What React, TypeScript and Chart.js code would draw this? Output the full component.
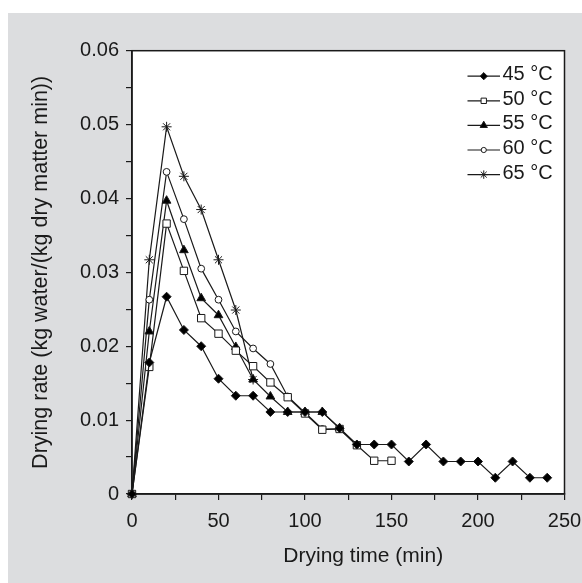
import React, { useEffect, useRef } from 'react';
import { Chart, registerables } from 'chart.js';
import { drawPoint } from 'chart.js/helpers';

Chart.register(...registerables);

// Drying time (min)
const timeMin = [0, 10, 20, 30, 40, 50, 60, 70, 80, 90, 100, 110, 120, 130, 140, 150, 160, 170, 180, 190, 200, 210, 220, 230, 240];

// Drying rate (kg water/(kg dry matter min))
const rate45 = [0, 0.0178, 0.0267, 0.0222, 0.02, 0.0156, 0.0133, 0.0133, 0.0111, 0.0111, 0.0111, 0.0111, 0.0089, 0.0067, 0.0067, 0.0067, 0.0044, 0.0067, 0.0044, 0.0044, 0.0044, 0.0022, 0.0044, 0.0022, 0.0022];
const rate50 = [0, 0.0172, 0.0366, 0.0302, 0.0238, 0.0217, 0.0194, 0.0173, 0.0151, 0.0131, 0.0109, 0.0087, 0.0088, 0.0066, 0.0045, 0.0045];
const rate55 = [0, 0.022, 0.0397, 0.033, 0.0265, 0.0242, 0.0199, 0.0155, 0.0132, 0.0111, 0.0111, 0.0111, 0.0089];
const rate60 = [0, 0.0263, 0.0436, 0.0372, 0.0305, 0.0263, 0.022, 0.0197, 0.0176, 0.0132, 0.011, 0.0088, 0.0088, 0.0066];
const rate65 = [0, 0.0317, 0.0497, 0.043, 0.0385, 0.0317, 0.0249, 0.0155];

const seriesLabels = ['45 °C', '50 °C', '55 °C', '60 °C', '65 °C'];
const seriesRates = [rate45, rate50, rate55, rate60, rate65];
const seriesStyles = ['rectRot', 'rect', 'triangle', 'circle', 'star'];
const seriesFill = ['#000000', '#ffffff', '#000000', '#ffffff', '#000000'];
const seriesRadius = [4.5, 5.2, 5, 3.4, 5];
const legendRadius = [3.6, 3.8, 4.2, 2.6, 4.2];

const xAxisTitle = 'Drying time (min)';
const yAxisTitle = 'Drying rate (kg water/(kg dry matter min))';

const FONT = "'Liberation Sans', Arial, Helvetica, sans-serif";
const INK = '#1a1a1a';
const GRAY = '#dcdddf';

const frameAndLegend = {
  id: 'frameAndLegend',
  beforeDraw(chart: any) {
    const { ctx, chartArea } = chart;
    ctx.save();
    ctx.fillStyle = '#ffffff';
    ctx.fillRect(chartArea.left, chartArea.top, chartArea.right - chartArea.left, chartArea.bottom - chartArea.top);
    ctx.restore();
  },
  beforeDatasetsDraw(chart: any) {
    const { ctx, chartArea } = chart;
    ctx.save();
    ctx.strokeStyle = INK;
    ctx.lineWidth = 1.5;
    ctx.strokeRect(chartArea.left, chartArea.top, chartArea.right - chartArea.left, chartArea.bottom - chartArea.top);
    ctx.restore();
  },
  afterDraw(chart: any) {
    const { ctx, chartArea } = chart;
    ctx.save();
    // x axis title (sits slightly right of the plot centre in the original)
    ctx.fillStyle = INK;
    ctx.font = `21px ${FONT}`;
    ctx.textAlign = 'center';
    ctx.textBaseline = 'middle';
    ctx.fillText(xAxisTitle, (chartArea.left + chartArea.right) / 2 + 15, chartArea.bottom + 62);
    // legend
    chart.data.datasets.forEach((ds: any, i: number) => {
      const y = chartArea.top + 25.5 + i * 24.6;
      const x0 = chartArea.right - 97;
      const x1 = chartArea.right - 64.5;
      ctx.strokeStyle = INK;
      ctx.lineWidth = 1.2;
      ctx.beginPath();
      ctx.moveTo(x0, y);
      ctx.lineTo(x1, y);
      ctx.stroke();
      ctx.fillStyle = seriesFill[i];
      ctx.strokeStyle = INK;
      ctx.lineWidth = 1;
      drawPoint(ctx, { pointStyle: seriesStyles[i], radius: legendRadius[i], borderWidth: 1, rotation: 0 } as any, (x0 + x1) / 2, y);
      ctx.fillStyle = INK;
      ctx.font = `20px ${FONT}`;
      ctx.textBaseline = 'middle';
      ctx.textAlign = 'left';
      ctx.fillText(ds.label, x1 + 2.5, y - 1.5);
    });
    ctx.restore();
  },
};

export default function App() {
  const canvasRef = useRef<HTMLCanvasElement | null>(null);

  useEffect(() => {
    const canvas = canvasRef.current;
    if (!canvas) return;
    const datasets = seriesLabels.map((label, i) => ({
      label,
      data: seriesRates[i].map((v, j) => ({ x: timeMin[j], y: v })),
      borderColor: INK,
      borderWidth: 1.2,
      pointStyle: seriesStyles[i],
      pointRadius: seriesRadius[i],
      pointBackgroundColor: seriesFill[i],
      pointBorderColor: INK,
      pointBorderWidth: 1,
      pointHoverRadius: seriesRadius[i],
      tension: 0,
      clip: false as any,
      fill: false,
    }));

    const chart = new Chart(canvas, {
      type: 'line',
      data: { datasets },
      options: {
        animation: false,
        responsive: false,
        maintainAspectRatio: false,
        devicePixelRatio: 1,
        layout: { padding: { left: 0, top: 37.7, right: 17.5, bottom: 0 } },
        plugins: {
          legend: { display: false },
          tooltip: { enabled: false },
        },
        scales: {
          x: {
            type: 'linear',
            min: 0,
            max: 250,
            afterFit: (scale: any) => {
              scale.height = 89;
              scale.paddingLeft = 0;
              scale.paddingRight = 0;
            },
            border: { display: true, color: INK, width: 1.5 },
            grid: { display: true, drawOnChartArea: false, drawTicks: true, tickLength: 6, color: INK, lineWidth: 1.2 },
            ticks: {
              stepSize: 25,
              autoSkip: false,
              maxRotation: 0,
              padding: 9,
              color: INK,
              font: { family: FONT, size: 20 },
              callback: (v: any) => (Math.round(Number(v)) % 50 === 0 ? String(Math.round(Number(v))) : ''),
            },
            title: { display: false },
          },
          y: {
            type: 'linear',
            min: 0,
            max: 0.06,
            afterFit: (scale: any) => {
              scale.width = 124;
              scale.paddingTop = 0;
              scale.paddingBottom = 0;
            },
            border: { display: true, color: INK, width: 1.5 },
            grid: { display: true, drawOnChartArea: false, drawTicks: true, tickLength: 6, color: INK, lineWidth: 1.2 },
            ticks: {
              stepSize: 0.005,
              autoSkip: false,
              padding: 7,
              color: INK,
              font: { family: FONT, size: 20 },
              callback: (v: any) => {
                const n = Math.round(Number(v) / 0.005);
                if (n % 2 !== 0) return '';
                return n === 0 ? '0' : (n * 0.005).toFixed(2);
              },
            },
            title: {
              display: true,
              text: yAxisTitle,
              color: INK,
              font: { family: FONT, size: 21.5 },
              padding: { top: 20, bottom: 0 },
            },
          },
        },
      },
      plugins: [frameAndLegend],
    });
    return () => chart.destroy();
  }, []);

  return (
    <div style={{ position: 'fixed', left: 8, top: 13, width: 574, height: 570, background: GRAY }}>
      <canvas ref={canvasRef} width={574} height={570} style={{ display: 'block', width: 574, height: 570 }} />
    </div>
  );
}
